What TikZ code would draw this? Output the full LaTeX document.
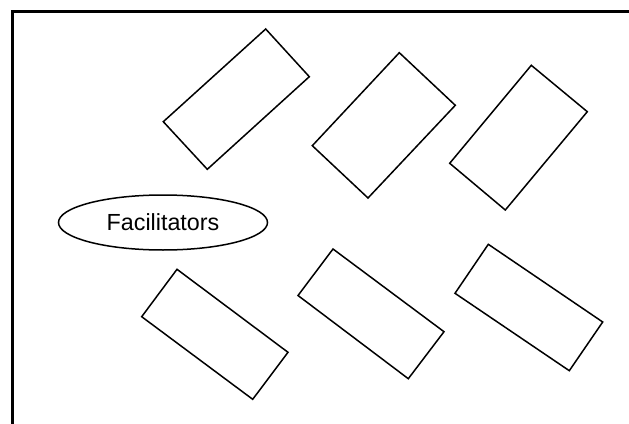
\documentclass[tikz,border=0pt]{standalone}
\usepackage{fontspec}
\setmainfont{Liberation Sans}
\usetikzlibrary{shapes.geometric}
\begin{document}
\begin{tikzpicture}[x=1pt,y=-1pt,
  card/.style={draw=black,line width=1.5pt,line join=miter},
  frame/.style={draw=black,line width=3pt},
  bubble/.style={ellipse,draw=black,line width=1.5pt,minimum width=209pt,minimum height=55pt,inner sep=0pt,font=\fontsize{23.3}{28}\selectfont}]
\useasboundingbox (0,0) rectangle (629,423);
\clip (0,0) rectangle (629,423);
\draw[frame] (12.5,430) -- (12.5,11.5) -- (640,11.5);
% rectangles
\draw[card] (265.7,29) -- (309.3,76.7) -- (207.3,169.3) -- (163.3,121.7) -- cycle;
\draw[card] (399.3,52.7) -- (455.3,105.3) -- (368,198) -- (312.3,145.7) -- cycle;
\draw[card] (531.3,65.3) -- (587.3,111.7) -- (505.3,210) -- (449.7,163.3) -- cycle;
\draw[card] (177,269.3) -- (288,352.3) -- (252.7,399.3) -- (141.7,316.7) -- cycle;
\draw[card] (333,249) -- (444,331.7) -- (408.3,378.7) -- (298,295.5) -- cycle;
\draw[card] (488.3,244.3) -- (602.7,322) -- (569.3,370.7) -- (455,293.3) -- cycle;
\node[bubble] (fac) at (163,222.5) {Facilitators};
\end{tikzpicture}
\end{document}
